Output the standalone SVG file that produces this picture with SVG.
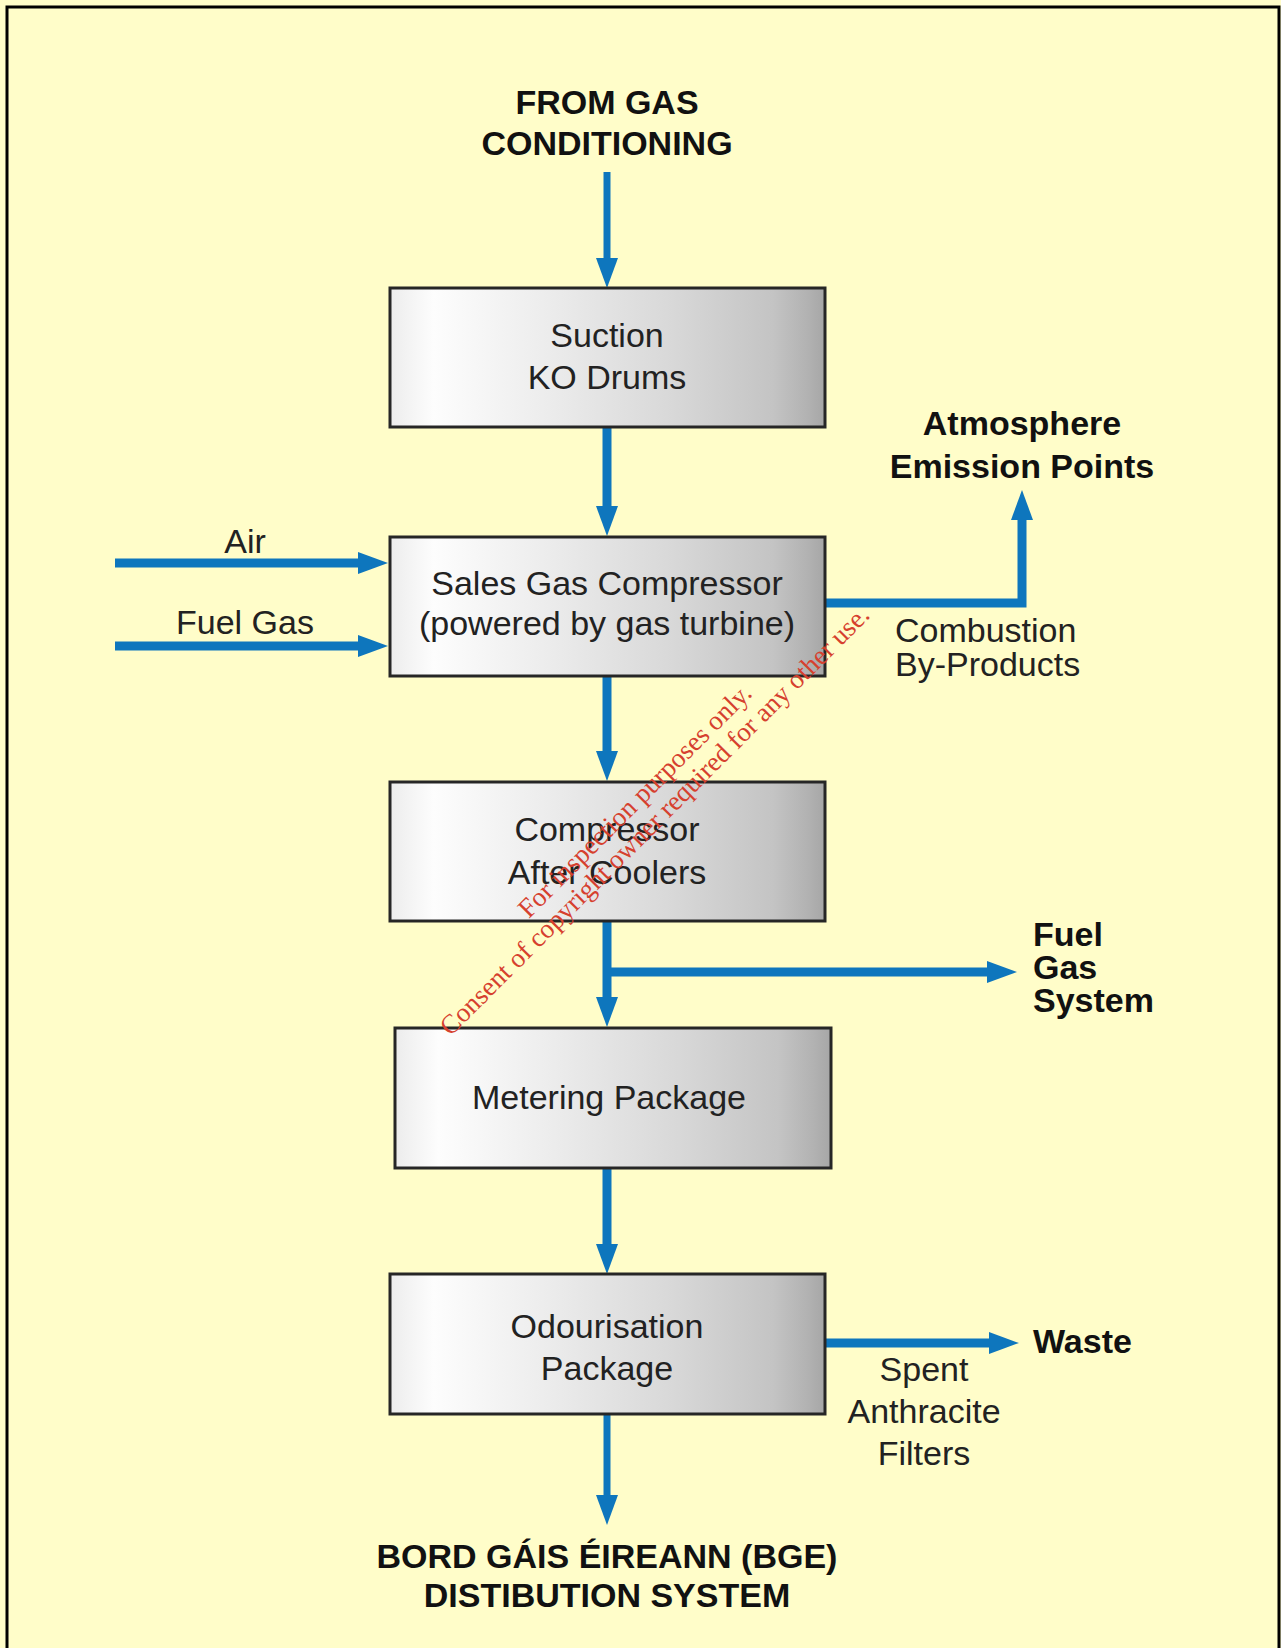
<svg xmlns="http://www.w3.org/2000/svg" width="1281" height="1648" viewBox="0 0 1281 1648">
  <defs>
    <linearGradient id="boxFill" x1="0" y1="0" x2="1" y2="0">
      <stop offset="0" stop-color="#ececec"/>
      <stop offset="0.1" stop-color="#fdfdfd"/>
      <stop offset="0.35" stop-color="#ededed"/>
      <stop offset="0.65" stop-color="#d8d8d8"/>
      <stop offset="0.88" stop-color="#c4c4c4"/>
      <stop offset="0.96" stop-color="#b2b2b2"/>
      <stop offset="1" stop-color="#a6a6a6"/>
    </linearGradient>
    <marker id="head" markerUnits="userSpaceOnUse" markerWidth="30" markerHeight="22" refX="0" refY="11" orient="auto">
      <path d="M0,0 L30,11 L0,22 Z" fill="#0e76bd"/>
    </marker>
    <style>
      .box { fill: url(#boxFill); stroke: #262626; stroke-width: 3; }
      .lbl { font-family: "Liberation Sans", Arial, Helvetica, sans-serif; font-size: 34px; fill: #222; }
      .bold { font-weight: bold; fill: #111; }
      .mid { text-anchor: middle; }
      .flow { fill: none; stroke: #0e76bd; stroke-width: 9; stroke-linejoin: miter; marker-end: url(#head); }
      .thin { stroke-width: 7; }
      .wm { font-family: "Liberation Serif", "Times New Roman", serif; font-size: 27px; fill: #d6402e; text-anchor: middle; }
    </style>
  </defs>

  <!-- page background and frame -->
  <rect x="0" y="0" width="1281" height="1648" fill="#fffdc9"/>
  <path d="M7,1648 V7 H1279 V1648" fill="none" stroke="#000" stroke-width="3"/>

  <!-- connectors -->
  <g id="connectors">
    <path class="flow thin" d="M607,172 V258"/>
    <path class="flow" d="M607,427 V506"/>
    <path class="flow" d="M607,676 V751"/>
    <path class="flow" d="M607,921 V997"/>
    <path class="flow" d="M607,972 H987"/>
    <path class="flow" d="M607,1168 V1244"/>
    <path class="flow thin" d="M607,1414 V1495"/>
    <path class="flow" d="M115,563 H358"/>
    <path class="flow" d="M115,646 H358"/>
    <path class="flow" d="M825,603 H1022 V520"/>
    <path class="flow" d="M825,1343 H989"/>
  </g>

  <!-- terminal labels -->
  <g id="source">
    <text class="lbl bold mid" x="607" y="114">FROM GAS</text>
    <text class="lbl bold mid" x="607" y="155">CONDITIONING</text>
  </g>
  <g id="bge">
    <text class="lbl bold mid" x="607" y="1568">BORD GÁIS ÉIREANN (BGE)</text>
    <text class="lbl bold mid" x="607" y="1607">DISTIBUTION SYSTEM</text>
  </g>
  <g id="atmosphere">
    <text class="lbl bold mid" x="1022" y="435">Atmosphere</text>
    <text class="lbl bold mid" x="1022" y="478">Emission Points</text>
  </g>
  <g id="fuel-gas-system">
    <text class="lbl bold" x="1033" y="946">Fuel</text>
    <text class="lbl bold" x="1033" y="979">Gas</text>
    <text class="lbl bold" x="1033" y="1012">System</text>
  </g>
  <g id="waste">
    <text class="lbl bold" x="1033" y="1353">Waste</text>
  </g>

  <!-- stream labels -->
  <g id="stream-labels">
    <text class="lbl mid" x="245" y="553">Air</text>
    <text class="lbl mid" x="245" y="634">Fuel Gas</text>
    <text class="lbl" x="895" y="642">Combustion</text>
    <text class="lbl" x="895" y="676">By-Products</text>
    <text class="lbl mid" x="924" y="1381">Spent</text>
    <text class="lbl mid" x="924" y="1423">Anthracite</text>
    <text class="lbl mid" x="924" y="1465">Filters</text>
  </g>

  <!-- process units -->
  <g id="suction-ko-drums">
    <rect class="box" x="390" y="288" width="435" height="139"/>
    <text class="lbl mid" x="607" y="347">Suction</text>
    <text class="lbl mid" x="607" y="389">KO Drums</text>
  </g>
  <g id="sales-gas-compressor">
    <rect class="box" x="390" y="537" width="435" height="139"/>
    <text class="lbl mid" x="607" y="595">Sales Gas Compressor</text>
    <text class="lbl mid" x="607" y="635">(powered by gas turbine)</text>
  </g>
  <g id="after-coolers">
    <rect class="box" x="390" y="782" width="435" height="139"/>
    <text class="lbl mid" x="607" y="841">Compressor</text>
    <text class="lbl mid" x="607" y="884">After Coolers</text>
  </g>
  <g id="metering-package">
    <rect class="box" x="395" y="1028" width="436" height="140"/>
    <text class="lbl mid" x="609" y="1109">Metering Package</text>
  </g>
  <g id="odourisation-package">
    <rect class="box" x="390" y="1274" width="435" height="140"/>
    <text class="lbl mid" x="607" y="1338">Odourisation</text>
    <text class="lbl mid" x="607" y="1380">Package</text>
  </g>

  <!-- diagonal stamp -->
  <g id="stamp" transform="translate(641,807) rotate(-45)">
    <text class="wm" x="0" y="0">For inspection purposes only.</text>
    <text class="wm" x="0" y="28">Consent of copyright owner required for any other use.</text>
  </g>
</svg>
